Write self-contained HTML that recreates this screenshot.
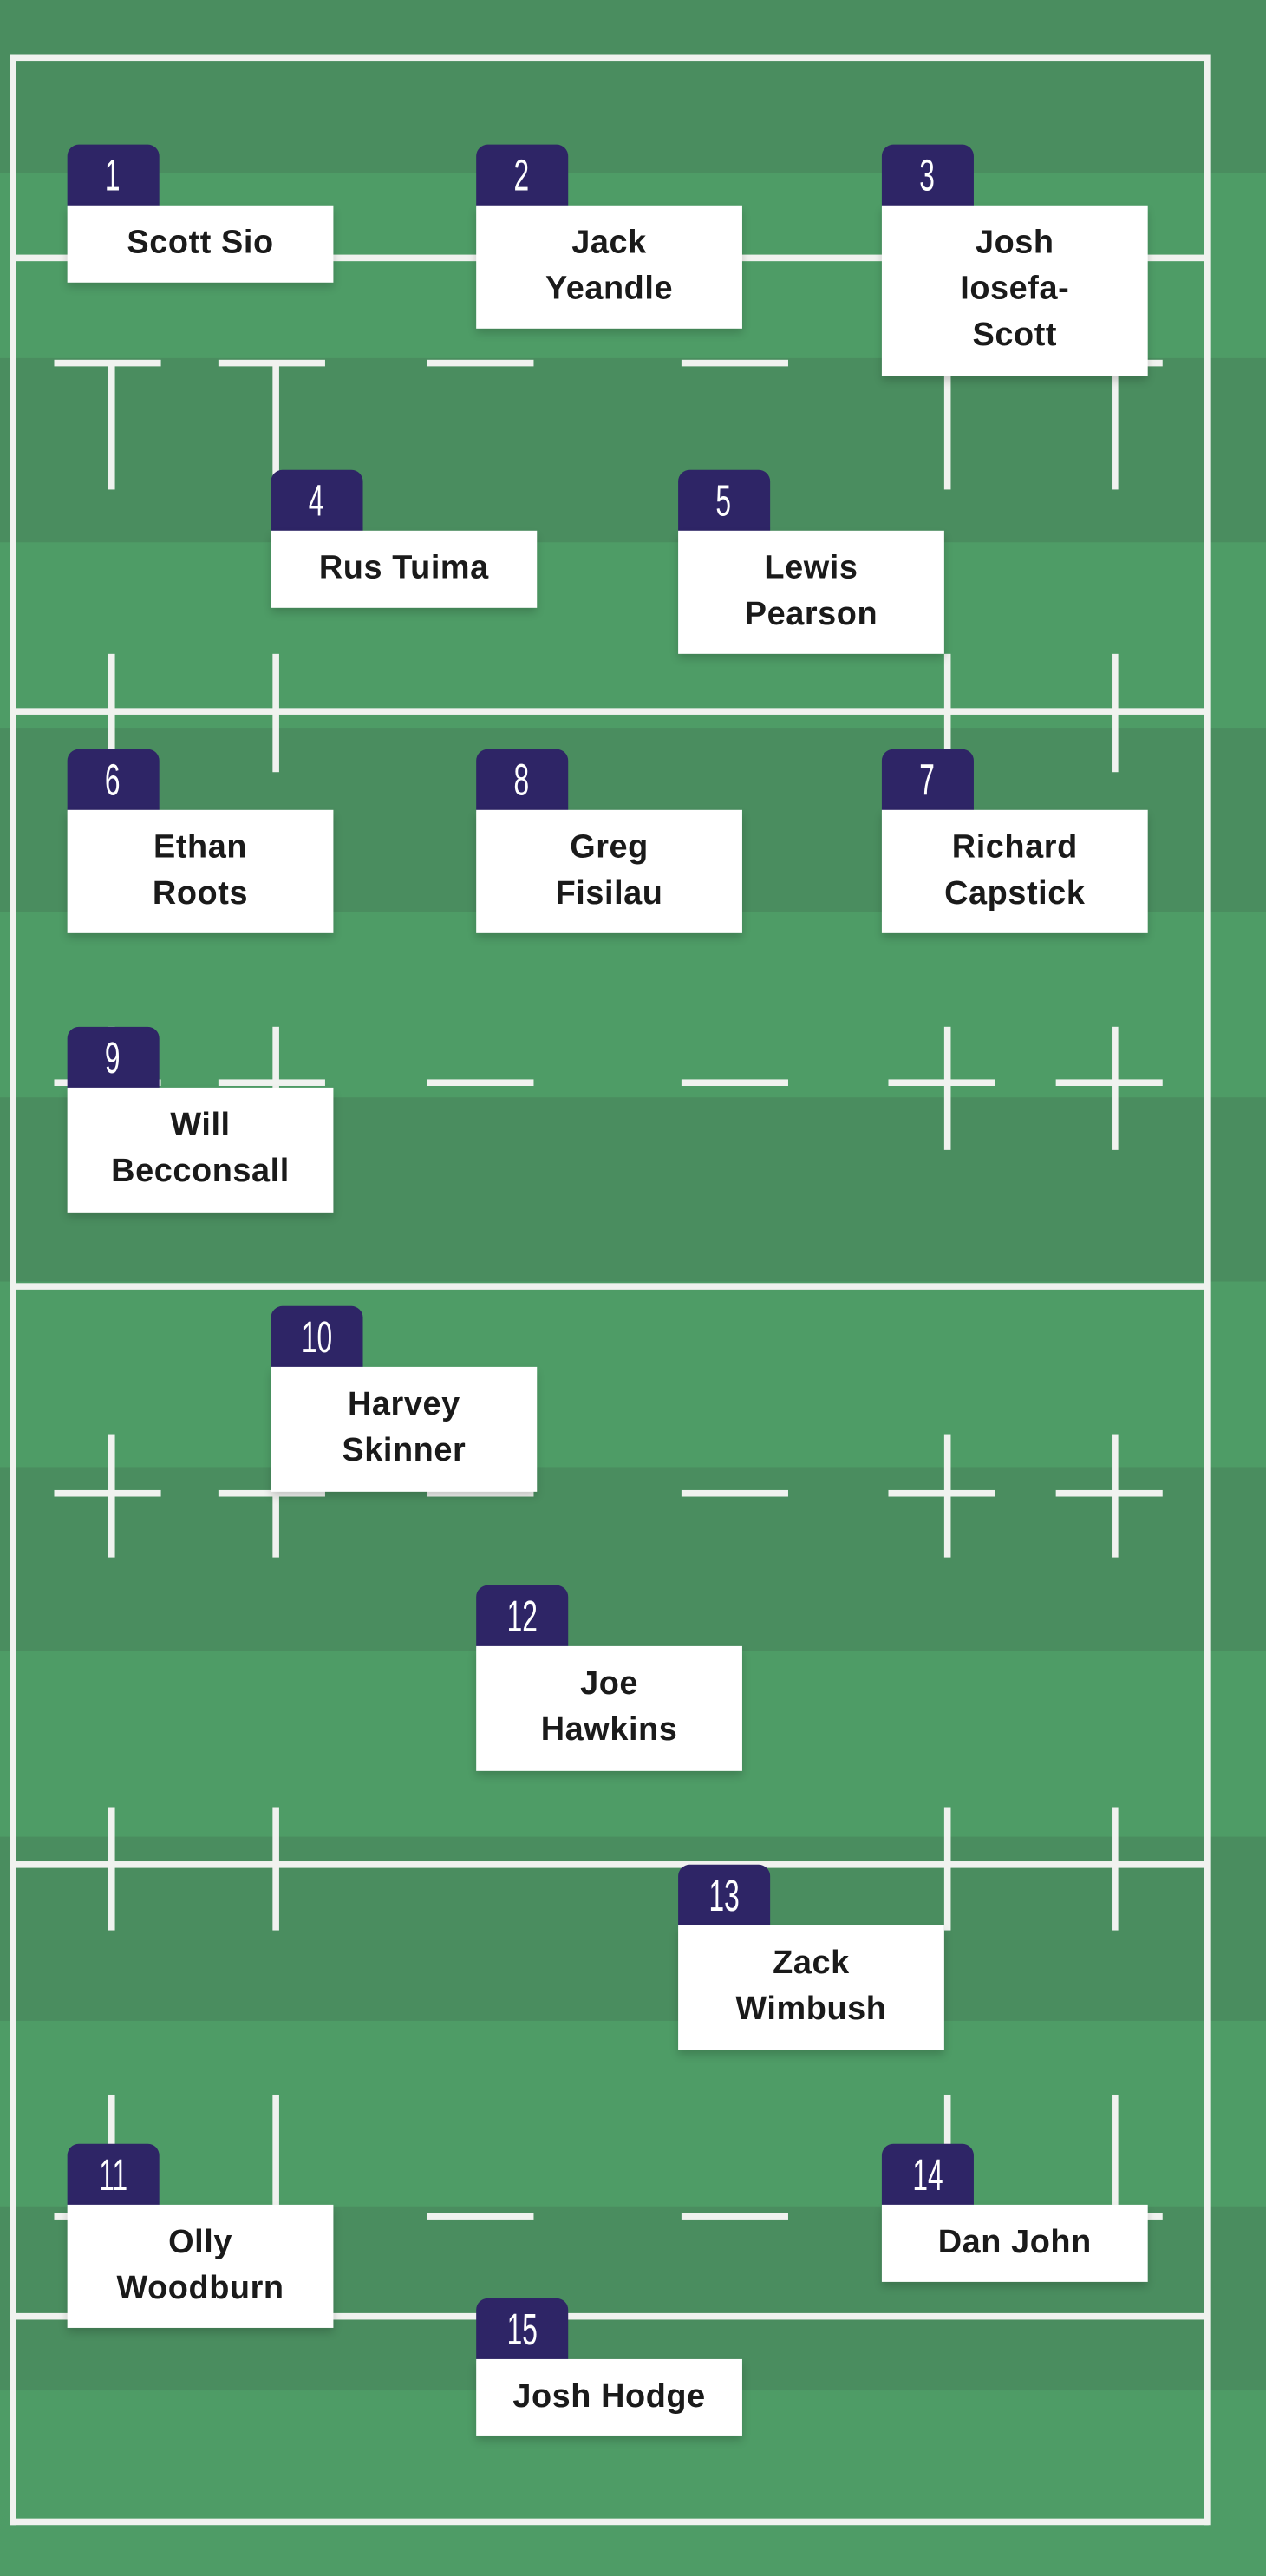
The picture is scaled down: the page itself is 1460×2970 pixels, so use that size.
<!DOCTYPE html>
<html><head><meta charset="utf-8"><style>
html,body{margin:0;padding:0;}
body{width:1460px;height:2970px;overflow:hidden;background:#4b8f60;}
#w{position:absolute;left:0;top:0;width:771px;height:1568px;transform-origin:0 0;transform:scale(1.8937,1.8941);
background:repeating-linear-gradient(180deg,#4a8d5f 0px,#4a8d5f 107px,#4e9c66 107px,#4e9c66 220px,#4a8d5f 220px);
background-size:100% 225px;background-position:0 -2px;}
.l{position:absolute;background:#f0f2ef;}
.tab{position:absolute;width:56px;height:38px;background:#2e2566;border-radius:7px 7px 0 0;color:#fff;
font-family:"Liberation Sans",sans-serif;font-size:27px;line-height:38px;text-align:center;}
.tab span{display:inline-block;transform:scaleX(0.62);}
.card{position:absolute;width:162px;background:#fff;box-shadow:0 3px 5px rgba(0,0,0,0.18);
font-family:"Liberation Sans",sans-serif;font-weight:bold;font-size:20px;line-height:28px;color:#1a1a1a;text-align:center;
box-sizing:border-box;padding-top:9px;letter-spacing:0.3px;}
</style></head><body><div id="w">
<!-- outer border -->
<div class="l" style="left:6px;top:33px;width:730px;height:3.5px"></div>
<div class="l" style="left:6px;top:1533px;width:730px;height:3.5px"></div>
<div class="l" style="left:6px;top:33px;width:3.5px;height:1504px"></div>
<div class="l" style="left:733px;top:33px;width:3.5px;height:1504px"></div>
<!-- full lines -->
<div class="l" style="left:6px;top:155px;width:730px;height:3.5px"></div>
<div class="l" style="left:6px;top:431px;width:730px;height:3.5px"></div>
<div class="l" style="left:6px;top:781px;width:730px;height:3.5px"></div>
<div class="l" style="left:6px;top:1133px;width:730px;height:3.5px"></div>
<div class="l" style="left:6px;top:1408px;width:730px;height:3.5px"></div>
<!-- dashes -->
<div id="dashes"></div>
<script>
(function(){
var w=document.getElementById('w');var h='';
[219,657,907,1347].forEach(function(y){[[33,98],[133,198],[260,325],[415,480],[541,606],[643,708]].forEach(function(s){
h+='<div class="l" style="left:'+s[0]+'px;top:'+y+'px;width:'+(s[1]-s[0])+'px;height:3.5px"></div>';});});
[[220,298],[398,470],[625,700],[873,948],[1100,1175],[1275,1348]].forEach(function(r){[66,166,575,677].forEach(function(x){
h+='<div class="l" style="left:'+x+'px;top:'+r[0]+'px;width:3.5px;height:'+(r[1]-r[0])+'px"></div>';});});
document.getElementById('dashes').outerHTML=h;
})();
</script>
<!-- players -->
<div class="tab" style="left:41px;top:88px"><span>1</span></div>
<div class="card" style="left:41px;top:125px;height:47px">Scott Sio</div>
<div class="tab" style="left:290px;top:88px"><span>2</span></div>
<div class="card" style="left:290px;top:125px;height:75px">Jack<br>Yeandle</div>
<div class="tab" style="left:537px;top:88px"><span>3</span></div>
<div class="card" style="left:537px;top:125px;height:104px">Josh<br>Iosefa-<br>Scott</div>

<div class="tab" style="left:165px;top:286px"><span>4</span></div>
<div class="card" style="left:165px;top:323px;height:47px">Rus Tuima</div>
<div class="tab" style="left:413px;top:286px"><span>5</span></div>
<div class="card" style="left:413px;top:323px;height:75px">Lewis<br>Pearson</div>

<div class="tab" style="left:41px;top:456px"><span>6</span></div>
<div class="card" style="left:41px;top:493px;height:75px">Ethan<br>Roots</div>
<div class="tab" style="left:290px;top:456px"><span>8</span></div>
<div class="card" style="left:290px;top:493px;height:75px">Greg<br>Fisilau</div>
<div class="tab" style="left:537px;top:456px"><span>7</span></div>
<div class="card" style="left:537px;top:493px;height:75px">Richard<br>Capstick</div>

<div class="tab" style="left:41px;top:625px"><span>9</span></div>
<div class="card" style="left:41px;top:662px;height:76px">Will<br>Becconsall</div>

<div class="tab" style="left:165px;top:795px"><span>10</span></div>
<div class="card" style="left:165px;top:832px;height:76px">Harvey<br>Skinner</div>

<div class="tab" style="left:290px;top:965px"><span>12</span></div>
<div class="card" style="left:290px;top:1002px;height:76px">Joe<br>Hawkins</div>

<div class="tab" style="left:413px;top:1135px"><span>13</span></div>
<div class="card" style="left:413px;top:1172px;height:76px">Zack<br>Wimbush</div>

<div class="tab" style="left:41px;top:1305px"><span>11</span></div>
<div class="card" style="left:41px;top:1342px;height:75px">Olly<br>Woodburn</div>
<div class="tab" style="left:537px;top:1305px"><span>14</span></div>
<div class="card" style="left:537px;top:1342px;height:47px">Dan John</div>

<div class="tab" style="left:290px;top:1399px"><span>15</span></div>
<div class="card" style="left:290px;top:1436px;height:47px">Josh Hodge</div>
</div></body></html>
